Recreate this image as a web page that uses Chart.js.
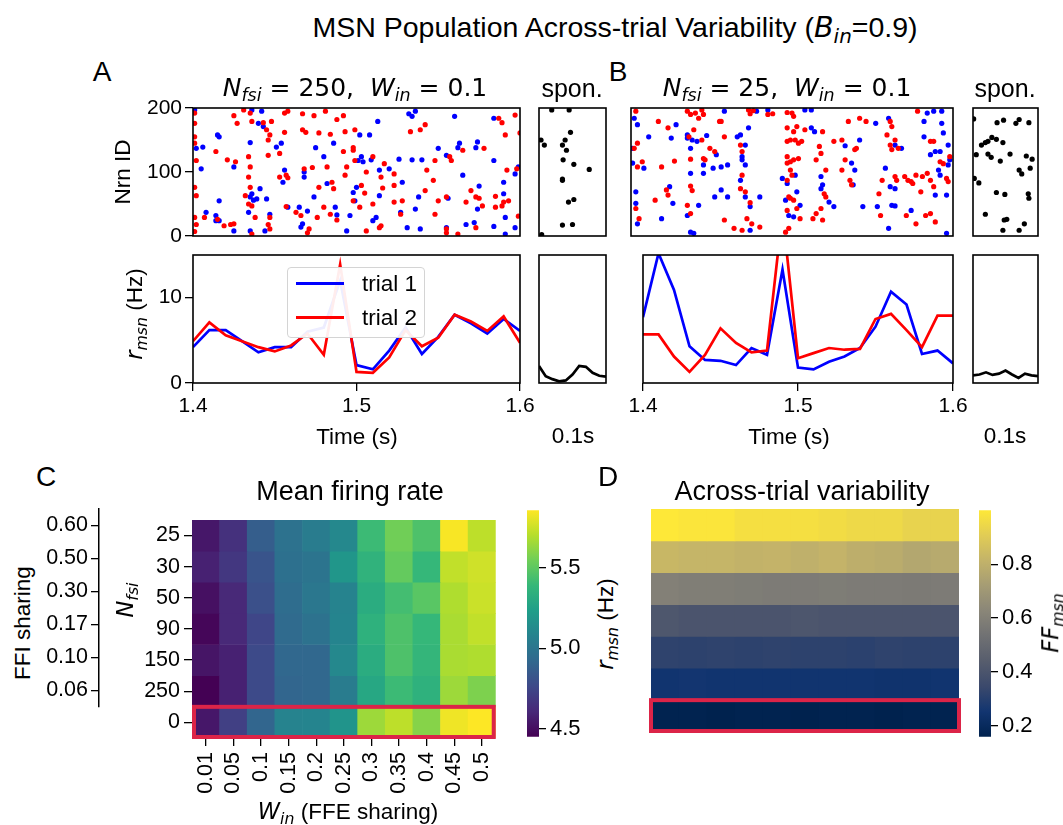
<!DOCTYPE html>
<html lang="en">
<head>
<meta charset="UTF-8">
<title>MSN Population Across-trial Variability</title>
<script src="https://cdn.jsdelivr.net/npm/chart.js"></script>
<style>
    body { margin: 0; background: #fff; }
    #fig { position: relative; width: 1063px; height: 825px; overflow: hidden; background: #fff; }
    canvas { position: absolute; }
    .t {
        position: absolute; z-index: 2; white-space: nowrap; line-height: 1; color: #000;
        transform: translate(-50%, -50%);
        font-family: 'Liberation Sans', Arial, sans-serif; font-size: 22.5px;
    }
    .r { transform: translate(-50%, -50%) rotate(-90deg); }
    .m { font-family: 'DejaVu Sans', sans-serif; font-style: italic; }
    sub { font-size: 70%; vertical-align: -0.3em; line-height: 0; }
    .leg { position: absolute; z-index: 2; }
</style>
</head>
<body>
<div id="fig">
    <div class="t" style="left:615px;top:28px;font-size:28.5px">MSN Population Across-trial Variability (<span class="m">B</span><sub class="m">in</sub>=0.9)</div>

    <div class="t" style="left:102px;top:72px;font-size:28px">A</div>
    <div class="t" style="left:618px;top:72px;font-size:28px">B</div>
    <div class="t" style="left:46px;top:477px;font-size:28px">C</div>
    <div class="t" style="left:608px;top:477px;font-size:28px">D</div>

    <div class="t" style="left:355px;top:87px;font-size:25px;font-family:'DejaVu Sans'"><span class="m">N</span><sub class="m">fsi</sub> = 250,&nbsp; <span class="m">W</span><sub class="m">in</sub> = 0.1</div>
    <div class="t" style="left:572px;top:88px;font-size:25px">spon.</div>
    <div class="t" style="left:787px;top:87px;font-size:25px;font-family:'DejaVu Sans'"><span class="m">N</span><sub class="m">fsi</sub> = 25,&nbsp; <span class="m">W</span><sub class="m">in</sub> = 0.1</div>
    <div class="t" style="left:1005px;top:88px;font-size:25px">spon.</div>

    <div class="t r" style="left:123px;top:172px">Nrn ID</div>
    <div class="t r" style="left:135px;top:314px"><span class="m">r</span><sub class="m">msn</sub> (Hz)</div>
    <div class="t" style="left:357px;top:437px">Time (s)</div>
    <div class="t" style="left:789px;top:437px">Time (s)</div>
    <div class="t" style="left:573px;top:436px">0.1s</div>
    <div class="t" style="left:1005px;top:436px">0.1s</div>

    <div class="leg" style="left:287px;top:267px;width:136px;height:69px;border:1px solid #d4d4d4;border-radius:4px;background:rgba(255,255,255,0.93)"></div>
    <div class="leg" style="left:296px;top:282px;width:48px;height:3px;background:#0000ff"></div>
    <div class="leg" style="left:296px;top:316px;width:48px;height:3px;background:#ff0000"></div>
    <div class="t" style="left:362px;top:284px;transform:translate(0,-50%)">trial 1</div>
    <div class="t" style="left:362px;top:318px;transform:translate(0,-50%)">trial 2</div>

    <div class="t" style="left:350px;top:491px;font-size:27px">Mean firing rate</div>
    <div class="t" style="left:802px;top:491px;font-size:27px">Across-trial variability</div>
    <div class="t r" style="left:23px;top:623px">FFI sharing</div>
    <div class="t r" style="left:126px;top:600px"><span class="m">N</span><sub class="m">fsi</sub></div>
    <div class="t" style="left:348px;top:812px"><span class="m">W</span><sub class="m">in</sub> (FFE sharing)</div>
    <div class="t r" style="left:606px;top:624px"><span class="m">r</span><sub class="m">msn</sub> (Hz)</div>
    <div class="t r" style="left:1051px;top:623px"><span class="m">FF</span><sub class="m">msn</sub></div>
</div>

<script>
    // ---- data ----
    const rateTime = [1.40, 1.41, 1.42, 1.43, 1.44, 1.45, 1.46, 1.47, 1.48, 1.49, 1.50,
                      1.51, 1.52, 1.53, 1.54, 1.55, 1.56, 1.57, 1.58, 1.59, 1.60];
    const rateA_trial1 = [4.2, 6.2, 6.2, 4.9, 3.6, 4.2, 4.2, 6.0, 6.5, 12.0, 2.1, 1.6, 3.8, 6.5, 3.4, 5.4, 8.0, 7.0, 5.8, 7.5, 6.1];
    const rateA_trial2 = [4.9, 7.1, 5.6, 4.9, 4.2, 3.7, 4.4, 5.8, 3.3, 13.9, 1.3, 1.2, 3.0, 6.2, 4.3, 5.3, 8.0, 7.2, 6.1, 7.8, 4.7];
    const rateB_trial1 = [7.7, 15.2, 10.9, 4.3, 2.7, 2.6, 2.1, 4.1, 3.3, 13.3, 1.8, 1.6, 2.5, 3.1, 4.1, 6.6, 10.7, 9.2, 3.4, 3.8, 2.3];
    const rateB_trial2 = [5.7, 5.7, 3.1, 1.3, 3.3, 6.4, 4.7, 3.6, 3.8, 20.0, 2.9, 3.5, 4.1, 3.9, 4.0, 7.5, 8.1, 6.2, 4.2, 7.9, 7.9];

    const sponTime = [0, 0.01, 0.02, 0.03, 0.04, 0.05, 0.06, 0.07, 0.08, 0.09, 0.10];
    const sponRateA = [2.0, 0.8, 0.45, 0.2, 0.3, 1.0, 2.0, 1.9, 1.2, 0.85, 0.75];
    const sponRateB = [0.9, 1.0, 1.25, 0.95, 1.1, 1.45, 1.0, 0.6, 1.1, 0.9, 0.8];

    // spikes: [time (s), neuron id]
    const rasterA_trial1 = [
        [1.401,197],[1.406,139],[1.402,137],[1.405,105],[1.415,158],[1.416,155],[1.425,108],[1.435,146],
        [1.436,197],[1.440,176],[1.442,195],[1.443,171],[1.451,139],[1.454,145],[1.456,103],[1.455,84],
        [1.468,100],[1.468,92],[1.475,138],[1.480,124],[1.482,82],[1.486,145],[1.502,158],[1.501,118],
        [1.503,124],[1.504,116],[1.509,119],[1.508,158],[1.513,179],[1.514,103],[1.520,105],[1.526,120],
        [1.532,191],[1.534,187],[1.536,195],[1.534,119],[1.540,119],[1.550,137],[1.555,126],[1.560,187],
        [1.562,138],[1.563,145],[1.565,95],[1.573,138],[1.574,147],[1.575,78],[1.584,184],[1.584,118],
        [1.590,84],[1.597,97],[1.599,108],[1.590,66],[1.416,55],[1.416,24],[1.414,24],[1.408,37],
        [1.414,32],[1.435,61],[1.436,66],[1.437,56],[1.441,74],[1.445,58],[1.434,37],[1.435,8],
        [1.444,8],[1.447,34],[1.458,45],[1.465,45],[1.467,19],[1.474,61],[1.487,45],[1.488,33],
        [1.494,8],[1.496,32],[1.498,68],[1.499,55],[1.500,76],[1.510,24],[1.514,63],[1.527,37],
        [1.536,42],[1.538,61],[1.556,59],[1.572,21],[1.574,42],[1.584,15],[1.591,29],[1.591,3],
        [1.597,13],[1.425,8],[1.439,58],[1.531,13],[1.539,11],[1.555,13],[1.567,18],[1.528,84],
        [1.512,29],[1.470,39],[1.466,14]
    ];
    const rasterA_trial2 = [
        [1.401,192],[1.401,176],[1.401,155],[1.402,118],[1.401,76],[1.402,63],[1.401,29],[1.402,18],
        [1.401,7],[1.401,145],[1.425,188],[1.431,197],[1.435,192],[1.436,179],[1.427,176],[1.443,177],
        [1.448,179],[1.445,166],[1.447,158],[1.446,150],[1.456,192],[1.458,195],[1.467,191],[1.474,188],
        [1.481,195],[1.488,182],[1.492,188],[1.467,166],[1.469,162],[1.477,161],[1.484,159],[1.493,163],
        [1.499,166],[1.414,132],[1.421,119],[1.426,116],[1.434,124],[1.435,108],[1.434,92],[1.435,76],
        [1.432,63],[1.434,50],[1.436,47],[1.446,126],[1.453,129],[1.456,162],[1.457,95],[1.458,91],
        [1.468,105],[1.473,107],[1.477,76],[1.480,45],[1.485,84],[1.486,74],[1.492,132],[1.493,95],
        [1.494,108],[1.498,138],[1.498,134],[1.499,118],[1.503,79],[1.505,67],[1.510,50],[1.515,92],
        [1.516,75],[1.510,124],[1.506,100],[1.523,53],[1.528,55],[1.533,163],[1.539,166],[1.542,174],
        [1.523,79],[1.542,71],[1.548,118],[1.548,34],[1.550,55],[1.555,61],[1.557,124],[1.558,118],
        [1.565,134],[1.567,53],[1.570,71],[1.573,61],[1.575,59],[1.577,47],[1.573,13],[1.585,62],
        [1.585,45],[1.587,184],[1.589,177],[1.591,158],[1.592,103],[1.598,105],[1.589,47],[1.590,53],
        [1.593,55],[1.599,31],[1.600,161],[1.597,189],[1.578,137],[1.555,11],[1.562,3],[1.515,16],
        [1.514,13],[1.506,8],[1.470,5],[1.471,11],[1.447,29],[1.446,18],[1.447,11],[1.436,3],
        [1.438,29],[1.423,18],[1.425,19],[1.407,29],[1.419,16],[1.415,26],[1.502,45],[1.498,55],
        [1.488,25],[1.484,34],[1.547,87],[1.543,103],[1.527,34],[1.517,113],[1.523,97],[1.482,108],
        [1.453,92],[1.457,46],[1.466,32],[1.463,37],[1.476,29],[1.555,5]
    ];
    const sponRasterA = [
        [0.019,197],[0.045,197],[0.003,150],[0.008,142],[0.039,150],[0.047,162],[0.035,142],[0.041,134],
        [0.036,119],[0.052,112],[0.075,104],[0.035,89],[0.035,87],[0.044,53],[0.052,57],[0.035,17],
        [0.050,18],[0.004,2]
    ];
    const rasterB_trial1 = [
        [1.402,184],[1.404,174],[1.401,137],[1.401,114],[1.408,106],[1.403,69],[1.403,51],[1.404,19],
        [1.411,155],[1.419,27],[1.424,77],[1.426,51],[1.428,174],[1.425,153],[1.435,153],[1.435,158],
        [1.437,137],[1.438,150],[1.441,148],[1.437,98],[1.442,48],[1.447,157],[1.445,111],[1.445,98],
        [1.451,106],[1.452,61],[1.435,32],[1.437,6],[1.439,4],[1.453,127],[1.456,108],[1.456,72],
        [1.460,111],[1.458,195],[1.466,155],[1.468,158],[1.471,142],[1.469,119],[1.469,124],[1.473,169],
        [1.471,61],[1.474,46],[1.471,111],[1.468,87],[1.460,61],[1.474,9],[1.480,61],[1.478,195],
        [1.485,197],[1.496,56],[1.494,90],[1.497,82],[1.498,32],[1.501,30],[1.505,48],[1.508,197],
        [1.512,197],[1.514,163],[1.518,93],[1.519,80],[1.526,46],[1.533,141],[1.538,80],[1.542,150],
        [1.544,46],[1.552,176],[1.553,46],[1.560,184],[1.558,106],[1.560,12],[1.562,48],[1.564,47],
        [1.561,77],[1.564,74],[1.574,40],[1.582,179],[1.584,192],[1.588,195],[1.593,195],[1.593,176],
        [1.592,132],[1.594,161],[1.586,127],[1.589,132],[1.597,142],[1.597,111],[1.598,119],[1.591,103],
        [1.592,95],[1.596,64],[1.589,64],[1.582,155],[1.596,4],[1.518,74],[1.512,169],[1.503,69],
        [1.502,95],[1.523,53],[1.537,114],[1.539,103],[1.564,142],[1.568,137]
    ];
    const rasterB_trial2 = [
        [1.403,195],[1.404,145],[1.402,137],[1.404,108],[1.403,43],[1.405,27],[1.407,116],[1.417,179],
        [1.423,169],[1.419,108],[1.422,72],[1.423,64],[1.415,56],[1.427,117],[1.435,195],[1.437,190],
        [1.440,192],[1.442,184],[1.444,197],[1.445,190],[1.439,166],[1.436,155],[1.437,120],[1.437,78],
        [1.438,71],[1.435,48],[1.437,35],[1.444,150],[1.445,121],[1.446,119],[1.449,137],[1.452,132],
        [1.455,179],[1.456,179],[1.458,155],[1.458,25],[1.464,12],[1.469,9],[1.473,197],[1.474,191],
        [1.476,196],[1.468,142],[1.469,132],[1.469,95],[1.468,74],[1.471,69],[1.474,52],[1.472,27],
        [1.475,19],[1.480,14],[1.485,190],[1.488,191],[1.497,193],[1.500,192],[1.501,187],[1.497,169],
        [1.501,163],[1.503,171],[1.508,166],[1.497,148],[1.499,150],[1.502,150],[1.504,145],[1.506,148],
        [1.497,124],[1.499,116],[1.501,119],[1.504,121],[1.497,114],[1.499,103],[1.500,95],[1.497,87],
        [1.498,61],[1.499,59],[1.501,56],[1.503,43],[1.505,27],[1.497,40],[1.496,6],[1.498,12],
        [1.513,27],[1.515,35],[1.518,43],[1.519,25],[1.520,66],[1.521,61],[1.517,140],[1.518,129],
        [1.515,119],[1.519,163],[1.521,103],[1.526,148],[1.531,150],[1.533,119],[1.531,103],[1.536,87],
        [1.537,80],[1.540,137],[1.539,135],[1.535,179],[1.542,184],[1.546,179],[1.556,87],[1.554,66],
        [1.555,32],[1.561,179],[1.562,171],[1.559,158],[1.561,142],[1.564,150],[1.562,135],[1.566,137],
        [1.564,93],[1.565,87],[1.570,93],[1.572,87],[1.574,85],[1.575,82],[1.577,95],[1.581,93],
        [1.584,98],[1.586,87],[1.588,77],[1.580,69],[1.571,32],[1.577,19],[1.583,32],[1.586,35],
        [1.589,22],[1.596,90],[1.597,85],[1.578,195],[1.586,148],[1.588,148],[1.592,116],[1.594,113],
        [1.598,124]
    ];
    const sponRasterB = [
        [0.001,183],[0.037,177],[0.047,181],[0.066,176],[0.071,182],[0.086,177],[0.013,142],[0.019,146],
        [0.023,148],[0.029,154],[0.036,151],[0.046,146],[0.005,127],[0.023,128],[0.028,123],[0.042,117],
        [0.057,128],[0.082,125],[0.091,120],[0.071,103],[0.075,97],[0.088,106],[0.002,90],[0.009,83],
        [0.036,68],[0.049,65],[0.085,66],[0.086,59],[0.019,34],[0.048,25],[0.052,26],[0.079,19],
        [0.046,9],[0.071,9]
    ];

    // heatmaps: rows follow nfsiLabels, columns follow winLabels
    const winLabels = ['0.01', '0.05', '0.1', '0.15', '0.2', '0.25', '0.3', '0.35', '0.4', '0.45', '0.5'];
    const nfsiLabels = ['25', '30', '50', '90', '150', '250', '0'];
    const ffiLabels = ['0.60', '0.50', '0.30', '0.17', '0.10', '0.06'];
    const meanRate = [
        [4.54, 4.65, 4.87, 4.98, 5.04, 5.11, 5.41, 5.55, 5.46, 5.85, 5.72],
        [4.58, 4.68, 4.82, 4.97, 4.99, 5.19, 5.36, 5.52, 5.39, 5.73, 5.76],
        [4.51, 4.61, 4.80, 4.95, 5.01, 5.08, 5.32, 5.43, 5.49, 5.69, 5.75],
        [4.47, 4.61, 4.75, 4.94, 4.98, 5.09, 5.35, 5.46, 5.39, 5.68, 5.73],
        [4.53, 4.58, 4.77, 4.92, 4.92, 5.11, 5.32, 5.46, 5.38, 5.68, 5.69],
        [4.45, 4.58, 4.77, 4.91, 4.92, 5.04, 5.29, 5.41, 5.35, 5.65, 5.58],
        [4.54, 4.72, 4.91, 5.08, 5.09, 5.18, 5.65, 5.72, 5.60, 5.83, 5.86]
    ];
    const fanoFactor = [
        [1.00, 0.99, 0.99, 0.97, 0.97, 0.97, 0.96, 0.95, 0.95, 0.93, 0.93],
        [0.83, 0.82, 0.82, 0.81, 0.815, 0.80, 0.815, 0.795, 0.785, 0.765, 0.775],
        [0.60, 0.59, 0.59, 0.585, 0.58, 0.58, 0.585, 0.58, 0.58, 0.575, 0.58],
        [0.41, 0.40, 0.40, 0.40, 0.40, 0.405, 0.40, 0.40, 0.40, 0.40, 0.40],
        [0.32, 0.315, 0.32, 0.315, 0.32, 0.315, 0.315, 0.31, 0.32, 0.315, 0.315],
        [0.25, 0.255, 0.25, 0.25, 0.25, 0.25, 0.25, 0.25, 0.245, 0.245, 0.25],
        [0.165, 0.165, 0.16, 0.165, 0.165, 0.16, 0.165, 0.165, 0.16, 0.165, 0.165]
    ];

    const rasterYTicks = [0, 100, 200];
    const rateYTicks = [0, 10];
    const timeTicks = [1.4, 1.5, 1.6];
    const rateCbarTicks = [4.5, 5.0, 5.5];
    const fanoCbarTicks = [0.2, 0.4, 0.6, 0.8];

    // ---- styling / helpers ----
    const FONT = "'Liberation Sans', Arial, sans-serif";
    const BLUE = '#0000ff', RED = '#ff0000';
    const VIRIDIS = ['#440154', '#482878', '#3e4989', '#31688e', '#26828e', '#1f9e89', '#35b779', '#6ece58', '#b5de2b', '#fde725'];
    const CIVIDIS = ['#00224e', '#123570', '#3b496c', '#575d6d', '#707173', '#8a8678', '#a59c74', '#c3b369', '#e1cc55', '#fee838'];
    Chart.defaults.font.family = FONT;
    Chart.defaults.color = '#000';

    function hexRgb(h) { return [1, 3, 5].map(i => parseInt(h.substr(i, 2), 16)); }
    function cmap(stops, f) {
        f = Math.min(1, Math.max(0, f));
        const p = f * (stops.length - 1);
        const i = Math.min(Math.floor(p), stops.length - 2);
        const t = p - i, a = hexRgb(stops[i]), b = hexRgb(stops[i + 1]);
        const c = a.map((v, k) => Math.round(v + (b[k] - v) * t));
        return `rgb(${c[0]},${c[1]},${c[2]})`;
    }

    const framePlugin = {
        id: 'frame',
        afterDraw(chart, args, opts) {
            if (!opts.on) return;
            const a = chart.chartArea, c = chart.ctx;
            c.save();
            c.strokeStyle = '#000';
            c.lineWidth = 1.6;
            c.strokeRect(a.left, a.top, a.right - a.left, a.bottom - a.top);
            c.restore();
        }
    };
    const highlightPlugin = {
        id: 'highlight',
        afterDatasetsDraw(chart, args, opts) {
            if (opts.row === undefined) return;
            const a = chart.chartArea, y = chart.scales.y, c = chart.ctx;
            const y0 = y.getPixelForValue(opts.row - 0.5), y1 = y.getPixelForValue(opts.row + 0.5);
            c.save();
            c.strokeStyle = '#dc2448';
            c.lineWidth = 4;
            c.strokeRect(a.left + opts.inset, Math.min(y0, y1), a.right - a.left - 2 * opts.inset, Math.abs(y1 - y0) - 1);
            c.restore();
        }
    };
    Chart.register(framePlugin, highlightPlugin);

    function makeCanvas(area, m) {
        const c = document.createElement('canvas');
        c.width = area[2] + m.l + m.r;
        c.height = area[3] + m.t + m.b;
        c.style.left = (area[0] - m.l) + 'px';
        c.style.top = (area[1] - m.t) + 'px';
        document.getElementById('fig').appendChild(c);
        return c;
    }
    function fixTicks(values) { return s => { s.ticks = values.map(v => ({ value: v })); }; }
    function tickAxis(o) {
        return Object.assign({
            border: { display: false },
            grid: { drawOnChartArea: false, color: '#000', lineWidth: 1.3, tickLength: 8 },
        }, o, {
            ticks: Object.assign({ color: '#000', font: { size: 21 }, padding: 3, autoSkip: false, maxRotation: 0 }, o.ticks || {})
        });
    }
    function baseOptions(padding, scales, plugins) {
        return {
            responsive: false, animation: false, events: [],
            layout: { padding: padding },
            scales: scales,
            plugins: Object.assign({ legend: { display: false }, tooltip: { enabled: false }, frame: { on: true } }, plugins || {})
        };
    }
    const pts = arr => arr.map(p => ({ x: p[0], y: p[1] }));
    const line = (xs, ys) => xs.map((x, i) => ({ x: x, y: ys[i] }));
    function dots(arr, color) {
        return { data: pts(arr), backgroundColor: color, borderWidth: 0, pointRadius: 2.6 };
    }
    function curve(xs, ys, color) {
        return { data: line(xs, ys), showLine: true, borderColor: color, borderWidth: 2.7, pointRadius: 0, tension: 0 };
    }

    // ---- raster panels ----
    function raster(area, trial1, trial2, showY) {
        const m = showY ? { t: 16, r: 6, b: 16, l: 60 } : { t: 16, r: 6, b: 16, l: 6 };
        new Chart(makeCanvas(area, m), {
            type: 'scatter',
            data: { datasets: [dots(trial2, RED), dots(trial1, BLUE)] },
            options: baseOptions({ top: m.t, right: m.r, bottom: m.b, left: showY ? 0 : m.l }, {
                x: { type: 'linear', display: false, min: 1.4, max: 1.6 },
                y: tickAxis({ type: 'linear', display: showY, min: 0, max: 200,
                    afterBuildTicks: fixTicks(rasterYTicks), afterFit: s => { s.width = m.l; } })
            })
        });
    }
    function sponRaster(area, spikes) {
        const m = { t: 16, r: 6, b: 16, l: 6 };
        new Chart(makeCanvas(area, m), {
            type: 'scatter',
            data: { datasets: [dots(spikes, '#000')] },
            options: baseOptions({ top: m.t, right: m.r, bottom: m.b, left: m.l }, {
                x: { type: 'linear', display: false, min: 0, max: 0.1 },
                y: { type: 'linear', display: false, min: 0, max: 200 }
            })
        });
    }

    // ---- rate panels ----
    function rate(area, trial1, trial2, showY) {
        const m = { t: 16, r: 18, b: 40, l: showY ? 60 : 18 };
        new Chart(makeCanvas(area, m), {
            type: 'scatter',
            data: { datasets: [curve(rateTime, trial2, RED), curve(rateTime, trial1, BLUE)] },
            options: baseOptions({ top: m.t, right: m.r, bottom: 0, left: showY ? 0 : m.l }, {
                x: tickAxis({ type: 'linear', min: 1.4, max: 1.6,
                    afterBuildTicks: fixTicks(timeTicks), afterFit: s => { s.height = m.b; },
                    ticks: { callback: v => v.toFixed(1) } }),
                y: tickAxis({ type: 'linear', display: showY, min: 0, max: 15,
                    afterBuildTicks: fixTicks(rateYTicks), afterFit: s => { s.width = m.l; } })
            })
        });
    }
    function sponRate(area, values) {
        const m = { t: 16, r: 6, b: 16, l: 6 };
        new Chart(makeCanvas(area, m), {
            type: 'scatter',
            data: { datasets: [curve(sponTime, values, '#000')] },
            options: baseOptions({ top: m.t, right: m.r, bottom: m.b, left: m.l }, {
                x: { type: 'linear', display: false, min: 0, max: 0.1 },
                y: { type: 'linear', display: false, min: 0, max: 15 }
            })
        });
    }

    raster([193, 108, 327, 128], rasterA_trial1, rasterA_trial2, true);
    sponRaster([539, 108, 67, 128], sponRasterA);
    rate([193, 255, 327, 128], rateA_trial1, rateA_trial2, true);
    sponRate([539, 255, 67, 128], sponRateA);

    raster([625, 108, 328, 128], rasterB_trial1, rasterB_trial2, false);
    sponRaster([973, 108, 65, 128], sponRasterB);
    rate([625, 255, 328, 128], rateB_trial1, rateB_trial2, false);
    sponRate([973, 255, 65, 128], sponRateB);

    // ---- heatmaps ----
    function heatmap(area, values, stops, showAxes) {
        const vmin = Math.min(...values.flat()), vmax = Math.max(...values.flat());
        const m = showAxes ? { t: 6, r: 6, b: 62, l: 60 } : { t: 6, r: 6, b: 6, l: 6 };
        new Chart(makeCanvas(area, m), {
            type: 'bar',
            data: {
                labels: winLabels,
                datasets: values.map((row, r) => ({
                    data: row.map(() => [r - 0.5, r + 0.5]),
                    backgroundColor: row.map(v => cmap(stops, (v - vmin) / (vmax - vmin))),
                    borderWidth: 0, grouped: false, barPercentage: 1, categoryPercentage: 1
                }))
            },
            options: baseOptions(showAxes ? { top: m.t, right: m.r, bottom: 0, left: 0 }
                                          : { top: m.t, right: m.r, bottom: m.b, left: m.l }, {
                x: tickAxis({ type: 'category', display: showAxes, offset: true,
                    grid: { offset: false, drawOnChartArea: false, color: '#000', lineWidth: 1.3, tickLength: 8 },
                    afterFit: s => { s.height = m.b; },
                    ticks: { font: { size: 21.5 }, minRotation: 90, maxRotation: 90, padding: 6 } }),
                y: tickAxis({ type: 'linear', display: showAxes, min: -0.5, max: 6.5, reverse: true,
                    afterBuildTicks: fixTicks(nfsiLabels.map((l, i) => i)), afterFit: s => { s.width = m.l; },
                    ticks: { font: { size: 21.5 }, padding: 4, callback: v => nfsiLabels[v] } })
            }, { frame: { on: false }, highlight: { row: 6, inset: showAxes ? 2 : 0 } })
        });
        return [vmin, vmax];
    }
    function colorbar(area, range, stops, ticks) {
        const m = { t: 16, r: 50, b: 16, l: 4 };
        new Chart(makeCanvas(area, m), {
            type: 'bar',
            data: {
                labels: [''],
                datasets: [{
                    data: [[range[0], range[1]]],
                    borderWidth: 0, barPercentage: 1, categoryPercentage: 1,
                    backgroundColor: ctx => {
                        const a = ctx.chart.chartArea;
                        if (!a) return stops[0];
                        const g = ctx.chart.ctx.createLinearGradient(0, a.bottom, 0, a.top);
                        stops.forEach((s, i) => g.addColorStop(i / (stops.length - 1), s));
                        return g;
                    }
                }]
            },
            options: baseOptions({ top: m.t, right: 0, bottom: m.b, left: m.l }, {
                x: { type: 'category', display: false },
                y: tickAxis({ type: 'linear', position: 'right', min: range[0], max: range[1],
                    afterBuildTicks: fixTicks(ticks), afterFit: s => { s.width = m.r; },
                    grid: { drawOnChartArea: false, color: '#000', lineWidth: 1.3, tickLength: 7 },
                    ticks: { font: { size: 22 }, padding: 4, callback: v => v.toFixed(1) } })
            }, { frame: { on: false } })
        });
    }

    const rateRange = heatmap([192, 509, 316, 229], meanRate, VIRIDIS, true);
    colorbar([527, 509, 12, 229], rateRange, VIRIDIS, rateCbarTicks);
    const fanoRange = heatmap([645, 509, 314, 229], fanoFactor, CIVIDIS, false);
    colorbar([979, 509, 12, 229], fanoRange, CIVIDIS, fanoCbarTicks);

    // secondary axis: FFI sharing for the first six rows
    (function () {
        const m = { t: 16, r: 4, b: 16, l: 60 };
        new Chart(makeCanvas([99, 509, 2, 198], m), {
            type: 'scatter',
            data: { datasets: [] },
            options: baseOptions({ top: m.t, right: m.r, bottom: m.b, left: 0 }, {
                x: { type: 'linear', display: false, min: 0, max: 1 },
                y: tickAxis({ type: 'linear', min: -0.5, max: 5.5, reverse: true,
                    border: { display: true, color: '#000', width: 1.5 },
                    afterBuildTicks: fixTicks(ffiLabels.map((l, i) => i)), afterFit: s => { s.width = m.l; },
                    ticks: { font: { size: 21.5 }, padding: 3, callback: v => ffiLabels[v] } })
            }, { frame: { on: false } })
        });
    })();
</script>
</body>
</html>
